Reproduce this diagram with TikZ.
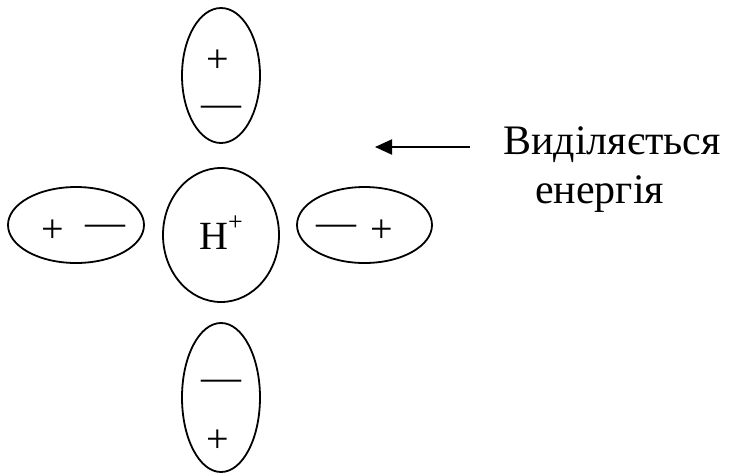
\documentclass[tikz,border=0pt]{standalone}
\usepackage{fontspec}
\setmainfont{Liberation Serif}
\usetikzlibrary{shapes.geometric,arrows.meta}
\begin{document}
\begin{tikzpicture}[x=1pt,y=-1pt,
  dipole/.style={draw,ellipse,line width=1.8pt,inner sep=0pt},
  charge/.style={inner sep=0pt,anchor=base,font=\fontsize{40}{48}\selectfont},
  caption/.style={inner sep=0pt,anchor=base west,font=\fontsize{42}{50}\selectfont}]
\useasboundingbox (0,0) rectangle (729,475);

% water dipoles around the proton
\node[dipole,minimum width=78pt,minimum height=135pt]  (top)    at (221,75.5) {};
\node[dipole,minimum width=116pt,minimum height=134pt] (center) at (221,235) {};
\node[dipole,minimum width=136pt,minimum height=76pt]  (left)   at (76,225) {};
\node[dipole,minimum width=135pt,minimum height=76pt]  (right)  at (364.5,225) {};
\node[dipole,minimum width=78pt,minimum height=149pt]  (bottom) at (221,397.5) {};

% charges
\node[charge] (topplus)     at (218,72.5) {+};
\node[charge] (topminus)    at (221,116) {—};
\node[charge] (leftplus)    at (53,242) {+};
\node[charge] (leftminus)   at (105,235) {—};
\node[charge] (rightminus)  at (336,235) {—};
\node[charge] (rightplus)   at (382,242) {+};
\node[charge] (bottomminus) at (221,390) {—};
\node[charge] (bottomplus)  at (218,452) {+};

% proton
\node[charge,anchor=base west] (proton) at (199,249.5)
  {H\raisebox{19pt}{\fontsize{26}{26}\selectfont+}};

% released energy
\coordinate (arrowtail) at (470,147);
\coordinate (arrowtip)  at (375,147);
\draw[line width=2pt,-{Triangle[length=17pt,width=15pt]}] (arrowtail) -- (arrowtip);
\node[caption] (energy1) at (503,154) {Виділяється};
\node[caption] (energy2) at (535,203) {енергія};
\end{tikzpicture}
\end{document}
